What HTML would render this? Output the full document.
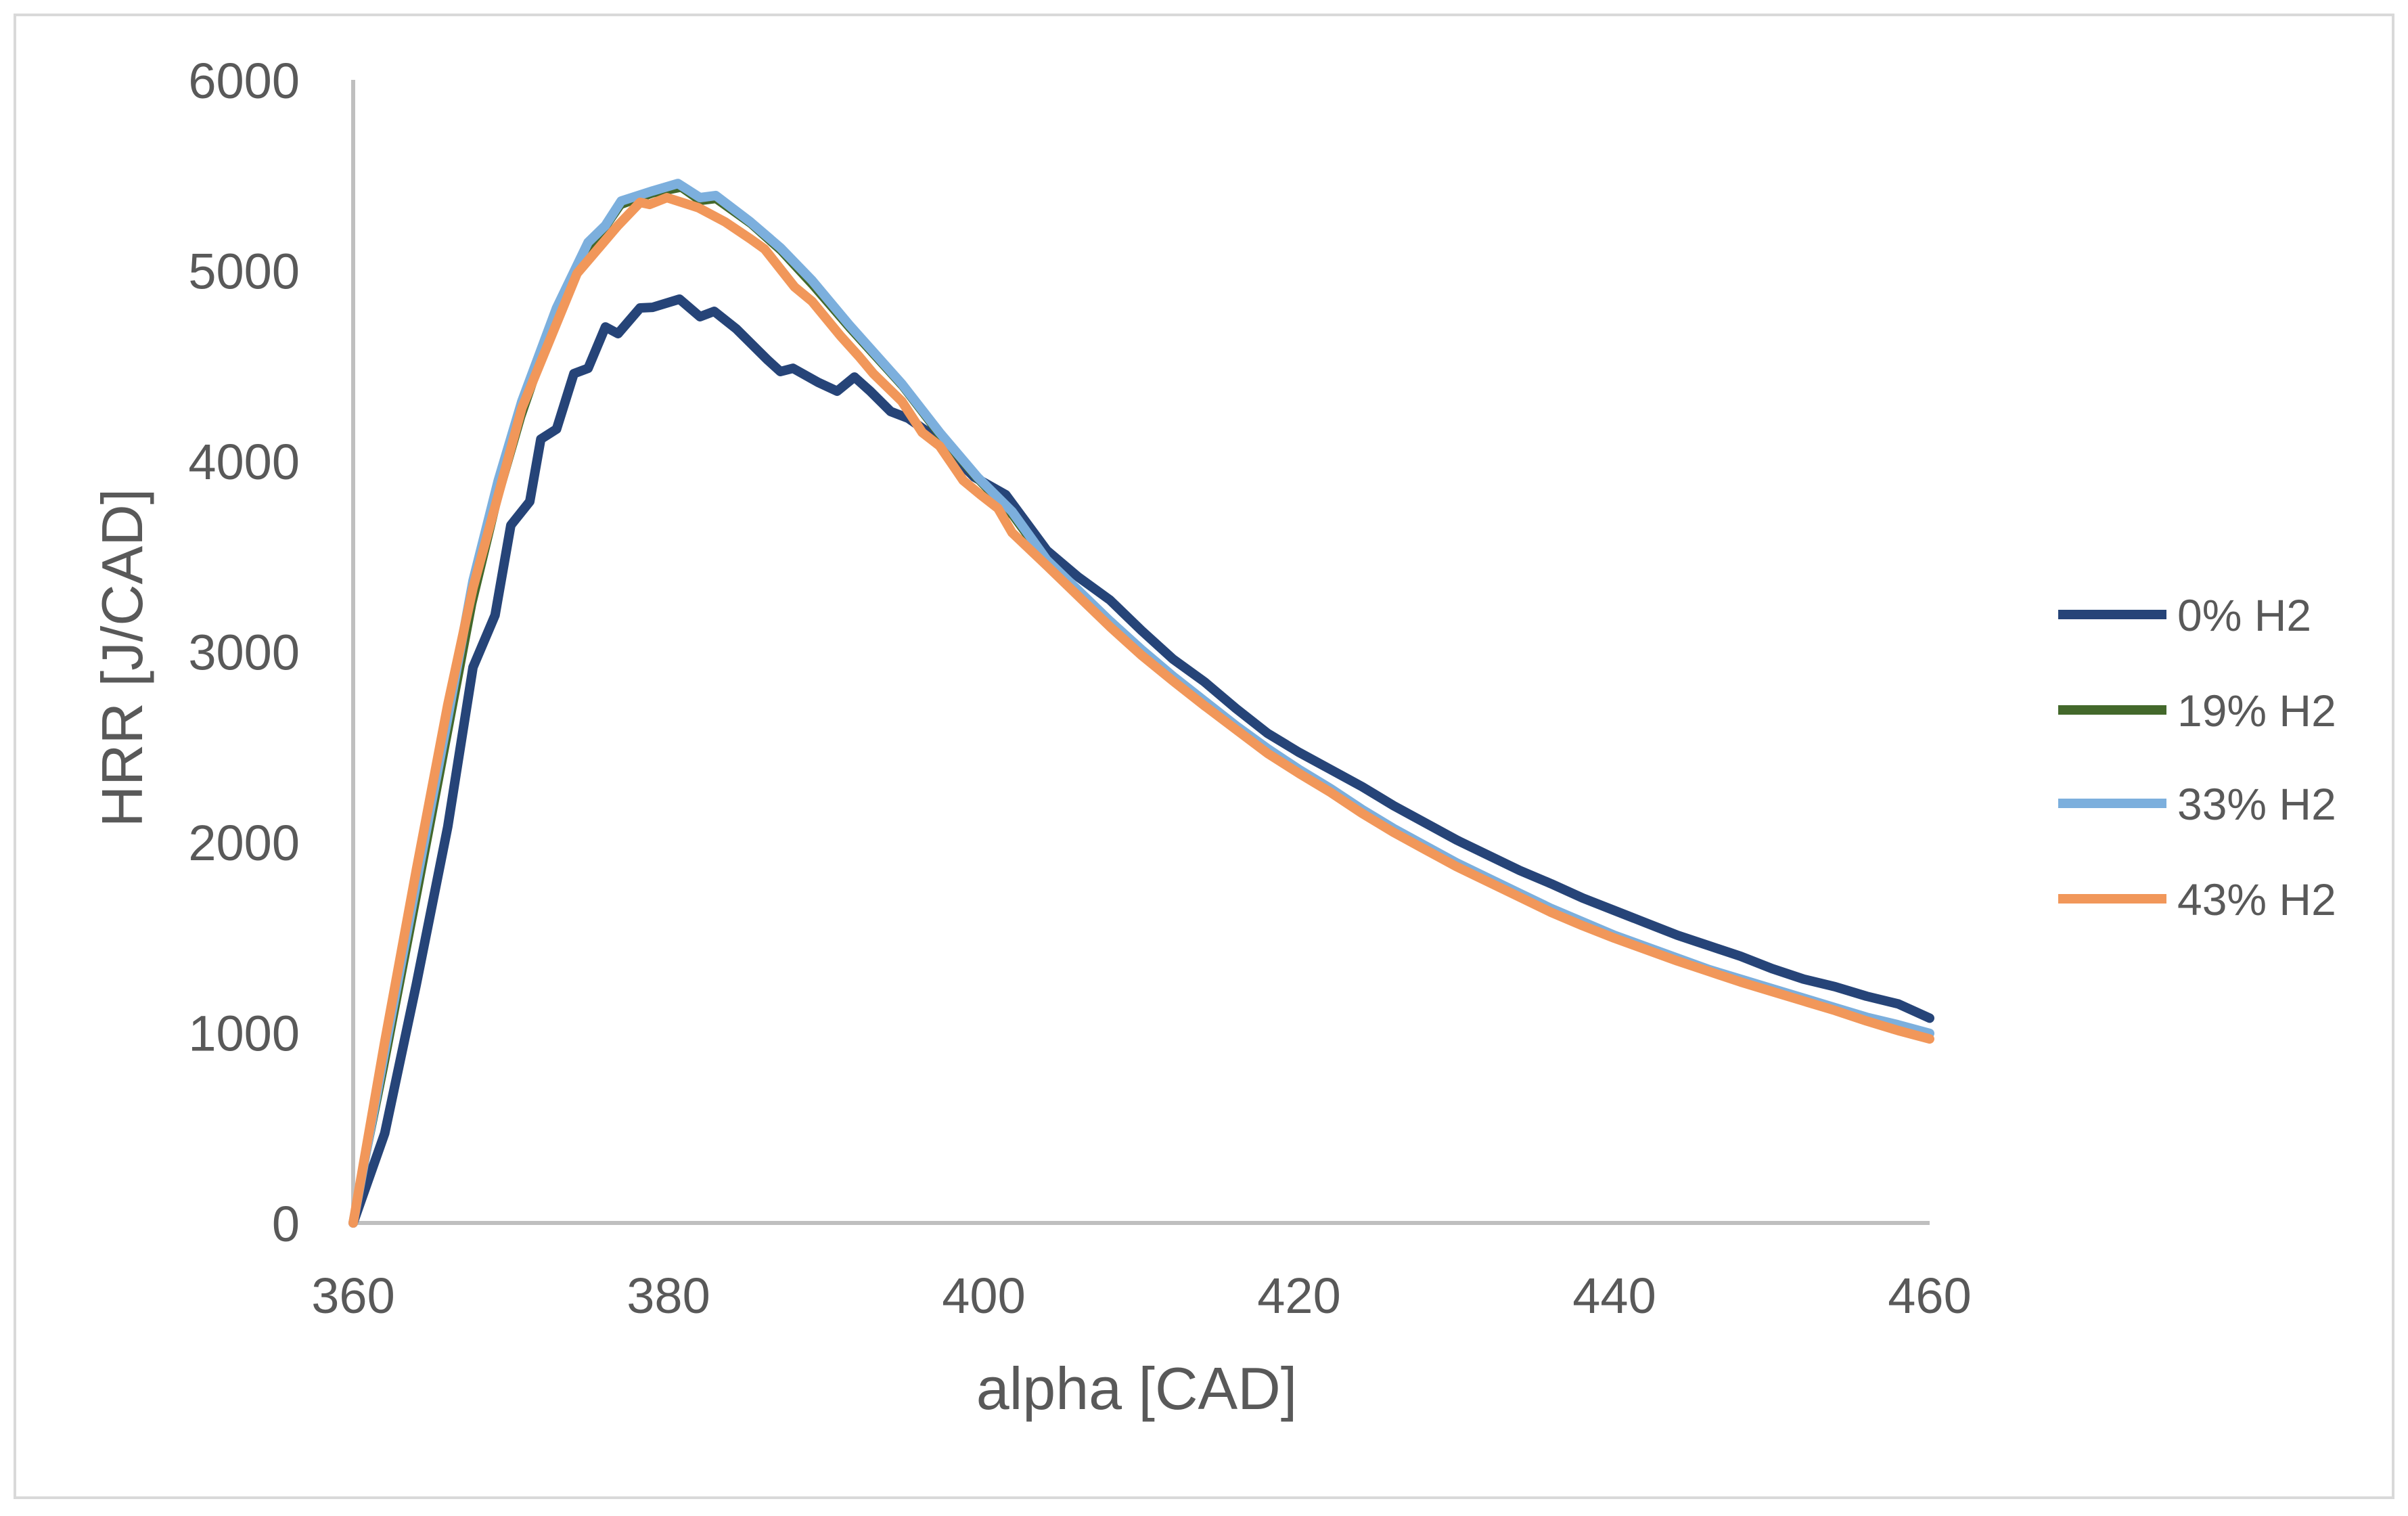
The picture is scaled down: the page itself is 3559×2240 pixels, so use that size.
<!DOCTYPE html>
<html><head><meta charset="utf-8"><style>
html,body{margin:0;padding:0;background:#fff;}
svg{display:block;font-family:"Liberation Sans",Arial,sans-serif;}
</style></head><body>
<svg id="chart" width="3559" height="2240" viewBox="0 0 3559 2240">
<rect x="22" y="22" width="3515" height="2191" fill="#fff" stroke="#d9d9d9" stroke-width="4"/>
<g id="axes"></g>
<g id="series"></g>
<g id="legend"></g>
<text x="1680" y="2082" font-size="88" fill="#595959" text-anchor="middle">alpha [CAD]</text>
<text transform="translate(210,972) rotate(-90)" font-size="85" fill="#595959" text-anchor="middle">HRR [J/CAD]</text>
</svg>
<script>
const xTicks=[360,380,400,420,440,460];
const yTicks=[0,1000,2000,3000,4000,5000,6000];
const seriesNames=["0% H2","19% H2","33% H2","43% H2"];
const seriesColors=["#264478","#43682b","#7cafdd","#f1975a"];
const alpha0=[360,362,364,366,367.6,369,370,371.2,371.9,372.9,374,374.9,376,376.8,378.2,379,380.7,382,382.9,384.3,386.3,387.1,387.9,389.5,390.7,391.8,392.8,394.1,395.2,396.8,399.4,401.4,404,406,408,410,412,414,416,418,420,422,424,426,428,430,432,434,436,438,440,442,444,446,448,450,452,454,456,458,460];
const hrr0=[0,470,1250,2080,2917,3190,3662,3787,4114,4167,4458,4486,4703,4668,4803,4806,4849,4757,4785,4693,4529,4469,4486,4412,4366,4440,4366,4259,4224,4131,3915,3822,3530,3390,3270,3110,2960,2840,2700,2570,2470,2380,2290,2190,2100,2010,1930,1850,1780,1705,1640,1575,1510,1455,1400,1335,1280,1240,1190,1150,1075];
const alpha19=[360,362,364,366,367.6,369.2,370.7,372.9,374.9,376,377,379,380.8,382,383,385.2,387.1,389.1,391.5,394.8,397.2,399.6,401.8,404,406,408,410,412,414,416,418,420,422,424,426,428,430,432,434,436,438,440,442,444,446,448,450,452,454,456,458,460];
const hrr19=[0,820,1680,2550,3250,3800,4230,4760,5110,5220,5340,5400,5430,5360,5370,5240,5100,4920,4690,4390,4130,3900,3710,3460,3300,3140,2990,2850,2720,2590,2470,2365,2265,2160,2060,1970,1880,1800,1720,1640,1570,1500,1440,1380,1320,1270,1220,1170,1120,1070,1020,975];
const alpha33=[360,362,364,366,367.6,369.2,370.7,372.9,374.9,376,377,379,380.6,382,383,385.2,387.1,389.1,391.5,394.8,397.2,399.6,401.8,404,406,408,410,412,414,416,418,420,422,424,426,428,430,432,434,436,438,440,442,444,446,448,450,452,454,456,458,460];
const hrr33=[0,900,1780,2650,3371,3897,4313,4803,5147,5236,5364,5417,5456,5382,5393,5254,5119,4948,4710,4405,4149,3915,3734,3480,3320,3160,3010,2870,2740,2610,2490,2380,2280,2170,2070,1980,1890,1810,1730,1650,1580,1510,1450,1390,1330,1280,1230,1180,1130,1080,1040,995];
const alpha43=[360,362,364,366,367.6,370.7,374.2,376.8,378.2,378.8,379.9,381.9,383.6,385.2,386.1,388,389.1,390.9,392.1,393,394.8,396.1,397.2,398.7,399.8,400.9,401.8,404,406,408,410,412,414,416,418,420,422,424,426,428,430,432,434,436,438,440,442,444,446,448,450,452,454,456,458,460];
const hrr43=[0,950,1850,2720,3334,4277,4984,5236,5357,5346,5382,5329,5254,5165,5112,4913,4838,4657,4547,4458,4313,4149,4078,3897,3822,3751,3623,3450,3290,3130,2980,2845,2715,2590,2465,2360,2260,2150,2050,1960,1870,1790,1710,1630,1560,1495,1435,1375,1320,1265,1215,1165,1115,1060,1010,966];
const seriesAlpha=[alpha0,alpha19,alpha33,alpha43];
const seriesHrr=[hrr0,hrr19,hrr33,hrr43];

const NS="http://www.w3.org/2000/svg";
const X0=522,X1=2852,Y0=1807,Y1=118;
function xs(a){return X0+(a-360)/(460-360)*(X1-X0);}
function ys(v){return Y0-v/6000*(Y0-Y1);}
function mk(tag,attrs,parent){const e=document.createElementNS(NS,tag);for(const k in attrs)e.setAttribute(k,attrs[k]);parent.appendChild(e);return e;}
const axes=document.getElementById('axes');
const yl=mk('line',{x1:X0,y1:Y1,x2:X0,y2:Y0,stroke:'#bfbfbf','stroke-width':6},axes);


const xl=mk('line',{x1:X0,y1:Y0,x2:X1,y2:Y0,stroke:'#bfbfbf','stroke-width':6},axes);


yTicks.forEach(v=>{
  const t=mk('text',{x:443,y:ys(v)+27,'font-size':74,fill:'#595959','text-anchor':'end'},axes);
  t.textContent=v;
  
  
});
xTicks.forEach(a=>{
  const t=mk('text',{x:xs(a),y:1940,'font-size':74,fill:'#595959','text-anchor':'middle'},axes);
  t.textContent=a;
  
  
});
const sg=document.getElementById('series');
[0,1,2,3].forEach(i=>{
  const al=seriesAlpha[i],hv=seriesHrr[i];
  const pts=al.map((a,j)=>xs(a).toFixed(1)+','+ys(hv[j]).toFixed(1)).join(' ');
  const p=mk('polyline',{points:pts,fill:'none',stroke:seriesColors[i],'stroke-width':i==1?10:14,'stroke-linejoin':'round','stroke-linecap':'round'},sg);
  
  
});
const lg=document.getElementById('legend');
const legY=[908,1049,1187,1328];
seriesNames.forEach((n,i)=>{
  const l=mk('line',{x1:3042,y1:legY[i],x2:3202,y2:legY[i],stroke:seriesColors[i],'stroke-width':14},lg);
  
  
  const t=mk('text',{x:3218,y:legY[i]+24,'font-size':66,fill:'#595959'},lg);
  t.textContent=n;
  
  
});
</script>
</body></html>
